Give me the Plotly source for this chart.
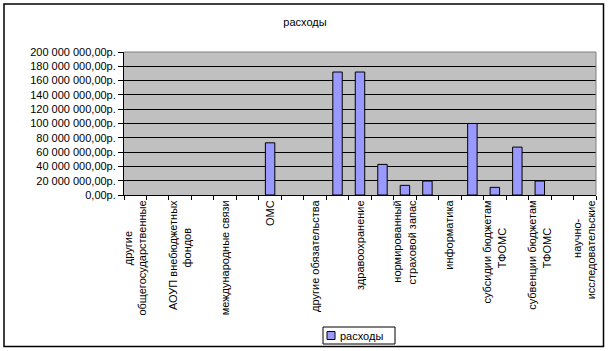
import plotly.graph_objects as go

# ---- data ----
NB = "\u00a0"
categories = [
    "другие" + NB * 10 + "<br>общегосударственные", "",
    "АОУП внебюджетных<br>фондов" + NB * 9, "",
    "международные связи", "",
    "ОМС", "",
    "другие обязательства", "",
    "здравоохранение", "",
    "нормированный<br>страховой запас", "",
    "информатика", "",
    "субсидии бюджетам<br>ТФОМС" + NB * 9, "",
    "субвенции бюджетам<br>ТФОМС" + NB * 9, "",
    "научно-" + NB * 6 + "<br>исследовательские",
]
values = [
    None, None, None, None, None, None,
    73_000_000, None, None,
    172_000_000, 172_000_000,
    42_800_000, 13_500_000, 19_500_000, None,
    100_000_000, 10_700_000, 67_000_000, 19_500_000,
    None, None,
]
series_name = "расходы"
title_text = "расходы"
y_tick_values = [0, 20_000_000, 40_000_000, 60_000_000, 80_000_000, 100_000_000,
                 120_000_000, 140_000_000, 160_000_000, 180_000_000, 200_000_000]


def rub(v):
    s = f"{int(v):,}".replace(",", " ")
    return s + ",00р."


positions = list(range(len(categories)))
label_pos = [p for p in positions if categories[p]]
label_txt = [categories[p] for p in label_pos]

FONT = "Liberation Sans, Arial, sans-serif"
BAR_COLOR = "#9999FF"

# plot area in pixels
W, H = 609, 351
L, R, T, B = 124, 596, 52, 195
pw, ph = R - L, B - T


def px_x(x):
    return (x - L) / pw


def px_y(y):
    return (B - y) / ph


fig = go.Figure()
fig.add_trace(go.Bar(
    x=positions, y=values, name=series_name, width=0.42,
    marker=dict(color=BAR_COLOR, line=dict(color="black", width=1)),
    showlegend=False,
))

# legend (drawn as box + swatch + text)
lg_x0, lg_x1, lg_y0, lg_y1 = 323, 395, 327, 344
shapes = [
    dict(type="line", xref="paper", yref="paper", x0=0, x1=1, y0=1, y1=1,
         line=dict(color="#808080", width=1), layer="above"),
    dict(type="line", xref="paper", yref="paper", x0=1, x1=1, y0=0, y1=1,
         line=dict(color="#808080", width=1), layer="above"),
    dict(type="rect", xref="paper", yref="paper",
         x0=px_x(4), x1=px_x(603.5), y0=px_y(346.5), y1=px_y(4),
         line=dict(color="black", width=1.5), fillcolor="rgba(0,0,0,0)",
         layer="above"),
    dict(type="rect", xref="paper", yref="paper",
         x0=px_x(lg_x0), x1=px_x(lg_x1), y0=px_y(lg_y1), y1=px_y(lg_y0),
         line=dict(color="black", width=1), fillcolor="white", layer="above"),
    dict(type="rect", xref="paper", yref="paper",
         x0=px_x(327), x1=px_x(335), y0=px_y(339.5), y1=px_y(331.5),
         line=dict(color="black", width=1), fillcolor=BAR_COLOR, layer="above"),
]

fig.update_layout(
    width=W, height=H,
    margin=dict(l=L, r=W - R, t=T, b=H - B, pad=0),
    paper_bgcolor="white", plot_bgcolor="#C0C0C0",
    font=dict(family=FONT, size=11, color="black"),
    title=dict(text=title_text, x=305 / W, xanchor="center",
               y=1 - 22 / H, yanchor="middle", font=dict(size=11, family=FONT)),
    showlegend=False,
    xaxis=dict(
        range=[-0.5, len(categories) - 0.5],
        tickmode="array", tickvals=label_pos, ticktext=label_txt,
        tickangle=-90, ticks="", showgrid=False, zeroline=False,
        showline=True, linecolor="black", linewidth=1,
        tickfont=dict(size=11, family=FONT),
        minor=dict(tickmode="array",
                   tickvals=[p - 0.5 for p in positions] + [positions[-1] + 0.5],
                   ticks="outside", ticklen=4, tickcolor="black", tickwidth=1,
                   showgrid=False),
    ),
    yaxis=dict(
        range=[0, 200_000_000],
        tickmode="array", tickvals=y_tick_values,
        ticktext=[rub(v) for v in y_tick_values],
        ticks="outside", ticklen=5, tickcolor="black",
        showgrid=True, gridcolor="black", gridwidth=1,
        zeroline=False, showline=True, linecolor="black", linewidth=1,
        tickfont=dict(size=11, family=FONT),
    ),
    shapes=shapes,
    annotations=[
        dict(text=series_name, xref="paper", yref="paper",
             x=px_x(338), y=px_y(335.5), xanchor="left", yanchor="middle",
             showarrow=False, font=dict(size=11, family=FONT, color="black")),
    ],
)

fig.write_html("out.html")
